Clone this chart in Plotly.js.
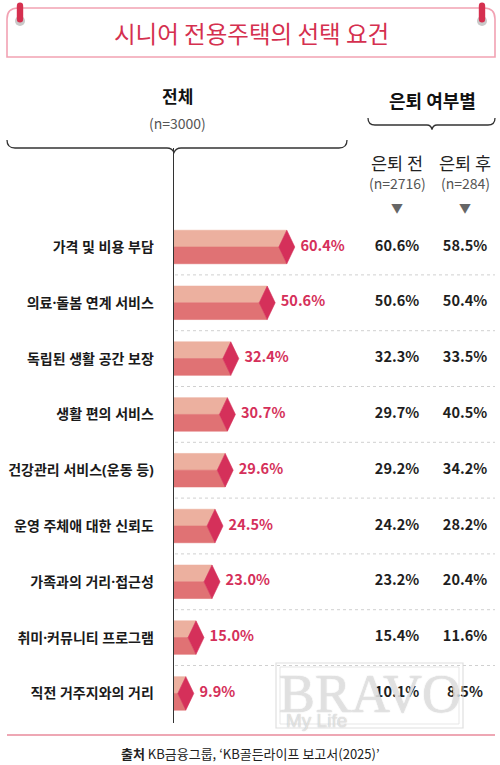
<!DOCTYPE html>
<html>
<head>
<meta charset="utf-8">
<script src="https://cdn.plot.ly/plotly-3.0.1.min.js"></script>
<style>
  html, body { margin: 0; padding: 0; background: #ffffff; }
  #chart { width: 500px; height: 765px; }
</style>
</head>
<body>
<div id="chart"></div>
<script>
// ---- data ----
const categories = [
  '가격 및 비용 부담',
  '의료·돌봄 연계 서비스',
  '독립된 생활 공간 보장',
  '생활 편의 서비스',
  '건강관리 서비스(운동 등)',
  '운영 주체애 대한 신뢰도',
  '가족과의 거리·접근성',
  '취미·커뮤니티 프로그램',
  '직전 거주지와의 거리'
];
const totalValues  = [60.4, 50.6, 32.4, 30.7, 29.6, 24.5, 23.0, 15.0, 9.9];
const beforeRetire = [60.6, 50.6, 32.3, 29.7, 29.2, 24.2, 23.2, 15.4, 10.1];
const afterRetire  = [58.5, 50.4, 33.5, 40.5, 34.2, 28.2, 20.4, 11.6, 8.5];
const totalHeader  = ['전체', '(n=3000)'];
const groupHeader  = '은퇴 여부별';
const colHeaders   = ['은퇴 전', '은퇴 후'];
const colSamples   = ['(n=2716)', '(n=284)'];
const titleText    = '시니어 전용주택의 선택 요건';
const sourceText   = '<b>출처</b> KB금융그룹, ‘KB골든라이프 보고서(2025)’';

// ---- geometry (layout only) ----
const W = 500, H = 765;
const PL = 174, PR = 500, PT = 148, PB = 723;
const XMAX = (PR - PL) / 2;           // 2 px per percent point
const ROW = 55.8, FIRST = 247;
const yTop = -(FIRST - PT) / ROW, yBot = (PB - FIRST) / ROW;
const colX = [(397 - PL) / 2, (465 - PL) / 2];
const D = 4, HH = 0.3;                // diamond half-width (units), half bar height (rows)

const px = x => (x - PL) / (PR - PL);
const py = y => (PB - y) / (PB - PT);

const KR = '"Noto Sans CJK KR", "Noto Sans", sans-serif';
const KR_LABEL = '"Noto Sans", "Noto Sans CJK KR", sans-serif';
const CRIMSON = '#D5305A';

// ---- bar polygons from the values ----
const faceTop = {x: [], y: []}, faceBot = {x: [], y: []}, faceDia = {x: [], y: []};
totalValues.forEach((v, i) => {
  const y = i;
  faceTop.x.push(0, v - D, v - 2 * D, 0, 0, null);
  faceTop.y.push(y - HH, y - HH, y, y, y - HH, null);
  faceBot.x.push(0, v - 2 * D, v - D, 0, 0, null);
  faceBot.y.push(y, y, y + HH, y + HH, y, null);
  faceDia.x.push(v - D, v, v - D, v - 2 * D, v - D, null);
  faceDia.y.push(y - HH, y, y + HH, y, y - HH, null);
});
const idx = categories.map((c, i) => i);

const face = (p, color) => ({
  type: 'scatter', mode: 'lines', x: p.x, y: p.y, fill: 'toself',
  fillcolor: color, line: {color: color, width: 0.6}, hoverinfo: 'skip', showlegend: false
});

const traces = [
  face(faceTop, '#ECB09F'),
  face(faceBot, '#E07274'),
  face(faceDia, CRIMSON),
  {
    type: 'scatter', mode: 'text', x: totalValues.map(v => v + 2.8), y: idx,
    text: totalValues.map(v => v.toFixed(1) + '%'), textposition: 'middle right',
    textfont: {family: KR, size: 14.5, color: CRIMSON, weight: 'bold'},
    hoverinfo: 'skip', showlegend: false
  },
  {
    type: 'scatter', mode: 'text', x: idx.map(() => colX[0]), y: idx,
    text: beforeRetire.map(v => v.toFixed(1) + '%'), textposition: 'middle center',
    textfont: {family: KR, size: 14.5, color: '#1e1e1e', weight: 'bold'},
    hoverinfo: 'skip', showlegend: false
  },
  {
    type: 'scatter', mode: 'text', x: idx.map(() => colX[1]), y: idx,
    text: afterRetire.map(v => v.toFixed(1) + '%'), textposition: 'middle center',
    textfont: {family: KR, size: 14.5, color: '#1e1e1e', weight: 'bold'},
    hoverinfo: 'skip', showlegend: false
  }
];

// ---- decorative shapes ----
function P(cmds) {
  return cmds.map(c => {
    const L = c[0]; const nums = [];
    for (let k = 1; k < c.length; k += 2) nums.push(px(c[k]).toFixed(5) + ',' + py(c[k + 1]).toFixed(5));
    return L + nums.join(' ');
  }).join(' ');
}
const shapes = [];
// title box
shapes.push({type: 'path', xref: 'paper', yref: 'paper',
  path: P([['M', 7, 57], ['L', 7, 19], ['Q', 7, 8, 18, 8], ['L', 484, 8], ['Q', 495, 8, 495, 19], ['L', 495, 57], ['Z']]),
  line: {color: '#F2A2B3', width: 1.6}, fillcolor: 'rgba(0,0,0,0)'});
// pins
[20, 482].forEach(cx => {
  shapes.push({type: 'circle', xref: 'paper', yref: 'paper',
    x0: px(cx - 5), x1: px(cx + 5), y0: py(26), y1: py(16),
    line: {width: 0}, fillcolor: '#C9C9C9'});
  shapes.push({type: 'path', xref: 'paper', yref: 'paper',
    path: P([['M', cx - 3.2, 6], ['Q', cx - 3.2, 2.5, cx, 2.5], ['Q', cx + 3.2, 2.5, cx + 3.2, 6], ['L', cx + 3.2, 19],
             ['Q', cx + 3.2, 22.5, cx, 22.5], ['Q', cx - 3.2, 22.5, cx - 3.2, 19], ['Z']]),
    line: {width: 0}, fillcolor: '#D5304F'});
});
// left brace
shapes.push({type: 'path', xref: 'paper', yref: 'paper',
  path: P([['M', 7, 140], ['Q', 7, 148, 15, 148], ['L', 167, 148], ['Q', 172, 148, 174, 152.5],
           ['Q', 176, 148, 181, 148], ['L', 339, 148], ['Q', 347, 148, 347, 140]]),
  line: {color: '#333333', width: 1.3}, fillcolor: 'rgba(0,0,0,0)'});
// right brace
shapes.push({type: 'path', xref: 'paper', yref: 'paper',
  path: P([['M', 368, 118], ['Q', 368, 125, 375, 125], ['L', 427, 125], ['Q', 431, 125, 432, 129.5],
           ['Q', 433, 125, 437, 125], ['L', 488, 125], ['Q', 495, 125, 495, 118]]),
  line: {color: '#333333', width: 1.3}, fillcolor: 'rgba(0,0,0,0)'});
// row separators
for (let i = 0; i < categories.length - 1; i++) {
  shapes.push({type: 'line', xref: 'x', yref: 'y', x0: 0.5, x1: (495 - PL) / 2, y0: i + 0.5, y1: i + 0.5,
    line: {color: '#D0D0D0', width: 1, dash: 'dot'}});
}
// footer line
shapes.push({type: 'line', xref: 'paper', yref: 'paper', x0: px(7), x1: px(495), y0: py(735), y1: py(735),
  line: {color: '#E88A9B', width: 1.5}});
// watermark frame
shapes.push({type: 'rect', xref: 'paper', yref: 'paper', x0: px(276), x1: px(463), y0: py(728), y1: py(663),
  line: {color: 'rgba(215,215,215,0.8)', width: 1.2}, fillcolor: 'rgba(0,0,0,0)'});
shapes.push({type: 'rect', xref: 'paper', yref: 'paper', x0: px(280), x1: px(459), y0: py(724), y1: py(667),
  line: {color: 'rgba(225,225,225,0.8)', width: 1}, fillcolor: 'rgba(0,0,0,0)'});

// ---- annotations ----
const ann = (text, x, y, font, extra) => Object.assign({
  text: text, xref: 'paper', yref: 'paper', x: px(x), y: py(y), xanchor: 'center', yanchor: 'middle',
  showarrow: false, font: Object.assign({family: KR}, font)
}, extra || {});
const annotations = [
  ann(titleText, 251, 33, {size: 23.5, color: '#D5304F'}),
  ann(totalHeader[0], 177, 95, {size: 17, color: '#111111', weight: 'bold'}),
  ann(totalHeader[1], 177, 123, {size: 14, color: '#555555'}),
  ann(groupHeader, 432, 100, {size: 18, color: '#111111', weight: 'bold'}),
  ann(sourceText, 250, 753, {size: 13, color: '#222222'}),
  ann('BRAVO', 370, 694, {family: '"Liberation Serif", serif', size: 54, color: 'rgba(250,250,250,0.55)',
      shadow: '0 0 1px #b0b0b0, 0 0 1px #b0b0b0'}),
  ann('My Life', 316, 720, {family: '"Liberation Sans", sans-serif', size: 19, color: 'rgba(250,250,250,0.55)',
      shadow: '0 0 1px #b0b0b0, 0 0 1px #b0b0b0'})
];
colHeaders.forEach((h, k) => {
  const cx = [397, 465][k];
  annotations.push(ann(h, cx, 162, {size: 17.5, color: '#222222'}));
  annotations.push(ann(colSamples[k], cx, 183, {size: 14, color: '#555555'}));
  annotations.push(ann('▼', cx, 208, {size: 12, color: '#666666'}));
});

const layout = {
  width: W, height: H,
  margin: {l: PL, r: W - PR, t: PT, b: H - PB, pad: 0},
  paper_bgcolor: '#ffffff', plot_bgcolor: 'rgba(0,0,0,0)',
  font: {family: KR},
  showlegend: false,
  xaxis: {range: [0, XMAX], visible: false, fixedrange: true},
  yaxis: {
    range: [yBot, yTop], tickvals: idx, ticktext: categories,
    showgrid: false, zeroline: false, showline: true, linecolor: '#333333', linewidth: 1.4,
    ticks: '', ticklabelstandoff: 16,
    tickfont: {family: KR_LABEL, size: 14, color: '#1a1a1a', weight: 'bold'}, fixedrange: true
  },
  shapes: shapes,
  annotations: annotations
};

Plotly.newPlot('chart', traces, layout, {displayModeBar: false, staticPlot: true});
</script>
</body>
</html>
